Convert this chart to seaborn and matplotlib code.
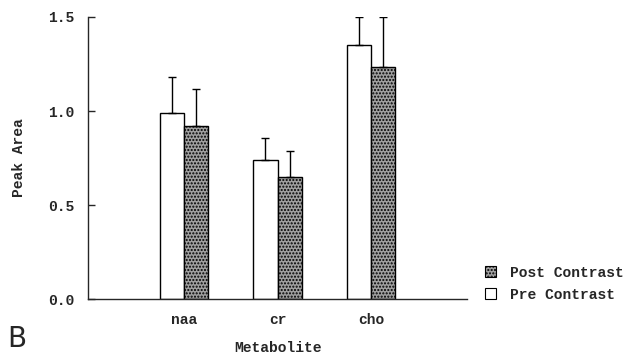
import numpy as np
import pandas as pd
import seaborn as sns
import matplotlib.pyplot as plt
from matplotlib.patches import Patch

# values
metabolites = ['naa', 'cr', 'cho']
pre_mean = [0.99, 0.74, 1.35]
pre_err = [0.19, 0.115, 0.15]
post_mean = [0.92, 0.65, 1.235]
post_err = [0.195, 0.135, 0.265]

df = pd.DataFrame({
    'Metabolite': metabolites * 2,
    'Peak Area': pre_mean + post_mean,
    'err': pre_err + post_err,
    'cond': ['Pre Contrast'] * 3 + ['Post Contrast'] * 3,
})

sns.set_style('ticks')
plt.rcParams['font.family'] = ['Liberation Mono', 'DejaVu Sans Mono']
plt.rcParams['font.weight'] = 'bold'
plt.rcParams['hatch.color'] = '#333333'

fig = plt.figure(figsize=(6.28, 3.54), dpi=100)
ax = fig.add_axes([0.140, 0.155, 0.604, 0.797])

hue_order = ['Pre Contrast', 'Post Contrast']
sns.barplot(data=df, x='Metabolite', y='Peak Area', hue='cond', hue_order=hue_order,
            order=metabolites, palette=['white', '#a0a0a0'], edgecolor='black',
            linewidth=1.0, width=0.52, gap=0, errorbar=None, legend=False, ax=ax)

# hatch the post-contrast bars, add upper error bars
for bar_group, cond in zip(ax.containers, hue_order):
    errs = df[df['cond'] == cond].set_index('Metabolite').loc[metabolites, 'err'].values
    xs = [b.get_x() + b.get_width() / 2 for b in bar_group]
    hs = [b.get_height() for b in bar_group]
    if cond == 'Post Contrast':
        for b in bar_group:
            b.set_hatch('.....')
    ax.errorbar(xs, hs, yerr=[np.zeros(len(errs)), errs], fmt='none',
                ecolor='black', elinewidth=1.0, capsize=3, capthick=1.0)

ax.set_xlim(-1.03, 3.03)
ax.set_ylim(0, 1.5)
ax.set_yticks([0.0, 0.5, 1.0, 1.5])
ax.set_yticklabels(['0.0', '0.5', '1.0', '1.5'], fontsize=10.5, fontweight='bold')
ax.set_xticklabels(metabolites, fontsize=10.5, fontweight='bold')
ax.tick_params(axis='y', direction='in', length=5, width=1.0, pad=10)
ax.tick_params(axis='x', length=0, pad=10)
sns.despine(ax=ax)
ax.spines['left'].set_linewidth(1.0)
ax.spines['bottom'].set_linewidth(1.0)

ax.set_ylabel('Peak Area', fontsize=10.5, fontweight='bold', labelpad=16)
ax.set_xlabel('Metabolite', fontsize=10.5, fontweight='bold', labelpad=10)

handles = [Patch(facecolor='#a0a0a0', edgecolor='black', hatch='.....', linewidth=0.8),
           Patch(facecolor='white', edgecolor='black', linewidth=0.8)]
fig.legend(handles, ['Post Contrast', 'Pre Contrast'], loc='center left',
           bbox_to_anchor=(0.772, 0.198), frameon=False, borderpad=0, borderaxespad=0,
           handlelength=0.75, handleheight=0.75, handletextpad=1.0, labelspacing=0.55,
           prop={'weight': 'bold', 'size': 10.5})

fig.text(0.012, 0.02, 'B', fontsize=20, family='DejaVu Sans', fontweight='normal')

fig.savefig('out.png', dpi=100)
